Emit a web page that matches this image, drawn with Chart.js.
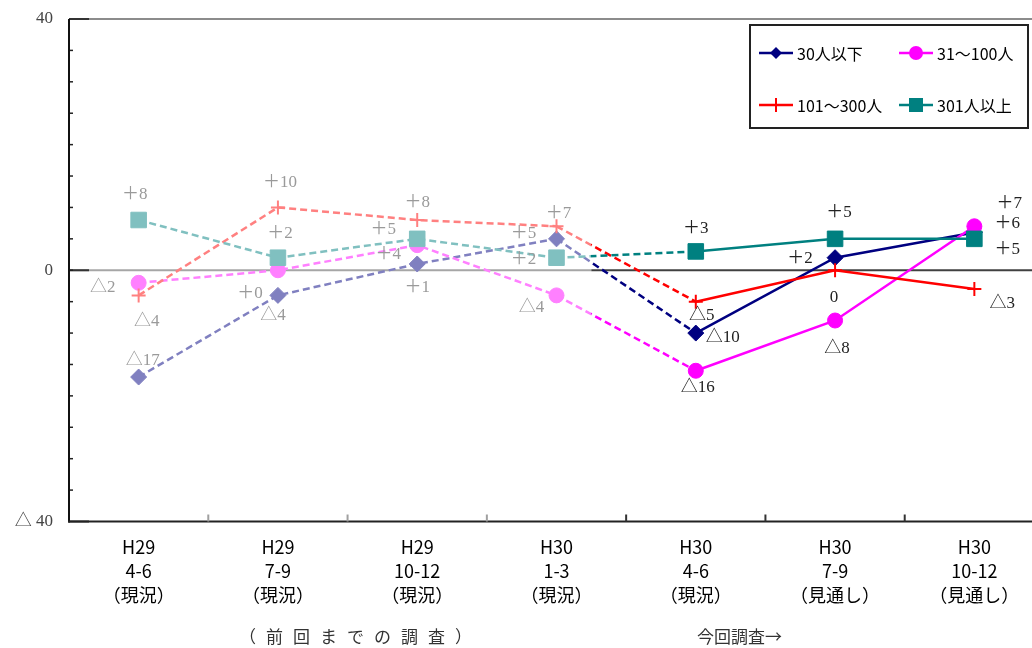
<!DOCTYPE html>
<html lang="ja">
<head>
<meta charset="utf-8">
<title>従業員規模別 景況判断</title>
<script src="https://cdn.jsdelivr.net/npm/chart.js@4.4.1/dist/chart.umd.min.js"></script>
<style>
  html, body { margin: 0; padding: 0; background: #fff; width: 1032px; height: 648px; overflow: hidden; }
  #wrap { position: absolute; left: 0; top: 0; width: 1044px; height: 648px; }
</style>
</head>
<body>
<div id="wrap"><canvas id="chart" width="1044" height="648"></canvas></div>
<script>
// ---- data ----
const categories = [
  ['H29', '4-6', '（現況）'],
  ['H29', '7-9', '（現況）'],
  ['H29', '10-12', '（現況）'],
  ['H30', '1-3', '（現況）'],
  ['H30', '4-6', '（現況）'],
  ['H30', '7-9', '（見通し）'],
  ['H30', '10-12', '（見通し）']
];
const seriesNames = ['30人以下', '31〜100人', '101〜300人', '301人以上'];
const under30     = [-17, -4, 1, 5, -10, 2, 6];
const from31to100 = [-2, 0, 4, -4, -16, -8, 7];
const from101to300 = [-4, 10, 8, 7, -5, 0, -3];
const over301     = [8, 2, 5, 2, 3, 5, 5];
const yTickValues = [40, 0, -40];
const previousCount = 4;            // quarters taken from earlier surveys
const previousNote = '（前回までの調査）';
const currentNote = '今回調査→';

// ---- styles ----
const seriesValues = [under30, from31to100, from101to300, over301];
const seriesStyle = [
  { full: '#000080', faded: '#8080c0', point: 'rectRot', radius: 8,   border: 1 },
  { full: '#ff00ff', faded: '#ff80ff', point: 'circle',  radius: 7.5, border: 1 },
  { full: '#ff0000', faded: '#ff8080', point: 'cross',   radius: 7,   border: 2 },
  { full: '#008080', faded: '#80c0c0', point: 'rect',    radius: 11,  border: 1 }
];
// value label offsets from each point, in px
const labelOffsets = [
  [[4, -17], [-5, 20], [0, 24], [-33, -5], [27, 4], [-35, 1], [33, -9]],
  [[-36, 5], [-28, 23], [-29, 9], [-25, 12], [2, 17], [2, 28], [35, -23]],
  [[8, 26], [2, -25], [0, -17], [2, -13], [6, 14], [-1, 27], [28, 14]],
  [[-4, -25], [2, -24], [-34, -9], [-33, 2], [0, -23], [4, -26], [33, 11]]
];
const LABEL_FONT = '17px "Liberation Serif", "Noto Sans CJK JP", serif';
const SANS = '"Noto Sans CJK JP", "Noto Sans", sans-serif';

function formatValue(v, i) {
  if (v < 0) return '△' + (-v);
  if (v > 0) return '＋' + v;
  return i < previousCount ? '＋0' : '0';
}

// x position where the earlier-survey part of the chart ends
function splitX(chart) {
  const x = chart.scales.x;
  const a = x.getPixelForValue(previousCount - 1), b = x.getPixelForValue(previousCount);
  return a + (b - a) / 4;
}

function splitStroke(chart, faded, full) {
  const area = chart.chartArea;
  if (!area) return full;
  const t = (splitX(chart) - area.left) / (area.right - area.left);
  const g = chart.ctx.createLinearGradient(area.left, 0, area.right, 0);
  g.addColorStop(0, faded);
  g.addColorStop(t, faded);
  g.addColorStop(t, full);
  g.addColorStop(1, full);
  return g;
}

function strokeLine(ctx, x1, y1, x2, y2, color, w) {
  ctx.beginPath();
  ctx.strokeStyle = color;
  ctx.lineWidth = w;
  ctx.moveTo(x1, y1);
  ctx.lineTo(x2, y2);
  ctx.stroke();
}

function drawMarker(ctx, style, x, y, r, color) {
  ctx.fillStyle = color;
  ctx.strokeStyle = color;
  ctx.beginPath();
  if (style === 'rectRot') {
    ctx.moveTo(x - r, y); ctx.lineTo(x, y - r); ctx.lineTo(x + r, y); ctx.lineTo(x, y + r);
    ctx.closePath(); ctx.fill();
  } else if (style === 'circle') {
    ctx.arc(x, y, r, 0, Math.PI * 2); ctx.fill();
  } else if (style === 'rect') {
    ctx.rect(x - r, y - r, 2 * r, 2 * r); ctx.fill();
  } else if (style === 'cross') {
    ctx.lineWidth = 2;
    ctx.moveTo(x - r, y); ctx.lineTo(x + r, y);
    ctx.moveTo(x, y - r); ctx.lineTo(x, y + r);
    ctx.stroke();
  }
}

// axes, reference lines and tick marks
const framePlugin = {
  id: 'frame',
  beforeDatasetsDraw(chart) {
    const { ctx, chartArea: a, scales: { x, y } } = chart;
    const split = splitX(chart);
    ctx.save();
    const yTop = y.getPixelForValue(40), yZero = y.getPixelForValue(0);
    strokeLine(ctx, a.left, yTop, a.right, yTop, '#8c8c8c', 2);
    strokeLine(ctx, a.left, yZero, split, yZero, '#a6a6a6', 2);
    strokeLine(ctx, split, yZero, a.right, yZero, '#404040', 2);
    for (const v of yTickValues) {
      const py = y.getPixelForValue(v);
      strokeLine(ctx, a.left, py, a.left + 20, py, '#333', 2);
    }
    for (let v = -35; v <= 35; v += 5) {
      const py = y.getPixelForValue(v);
      strokeLine(ctx, a.left, py, a.left + 4, py, '#222', 1.5);
    }
    strokeLine(ctx, a.left, a.top, a.left, a.bottom + 1, '#111', 2);
    strokeLine(ctx, a.left - 1, a.bottom, a.right, a.bottom, '#222', 2);
    for (let i = 0; i < categories.length - 1; i++) {
      const bx = (x.getPixelForValue(i) + x.getPixelForValue(i + 1)) / 2;
      strokeLine(ctx, bx, a.bottom, bx, a.bottom - 7, i < previousCount - 1 ? '#a0a0a0' : '#333', 2);
    }
    ctx.restore();
  },
  afterDatasetsDraw(chart) {
    const { ctx } = chart;
    ctx.save();
    ctx.font = LABEL_FONT;
    ctx.textAlign = 'center';
    ctx.textBaseline = 'middle';
    seriesValues.forEach((vals, s) => {
      const meta = chart.getDatasetMeta(s);
      vals.forEach((v, i) => {
        const pt = meta.data[i];
        const [dx, dy] = labelOffsets[s][i];
        ctx.fillStyle = i < previousCount ? '#9a9a9a' : '#222';
        ctx.fillText(formatValue(v, i), pt.x + dx, pt.y + dy);
      });
    });
    ctx.restore();
  },
  afterDraw(chart) {
    const { ctx, scales: { x } } = chart;
    ctx.save();
    // legend box
    const lx = 750, ly = 25, lw = 278, lh = 103;
    ctx.fillStyle = '#fff';
    ctx.fillRect(lx, ly, lw, lh);
    ctx.strokeStyle = '#222';
    ctx.lineWidth = 2;
    ctx.strokeRect(lx, ly, lw, lh);
    const slots = [[759, 53], [899, 53], [759, 105], [899, 105]];
    const legendR = [6, 7, 7, 7];
    ctx.font = '16px ' + SANS;
    ctx.textBaseline = 'middle';
    ctx.textAlign = 'left';
    seriesNames.forEach((name, s) => {
      const [sx, sy] = slots[s];
      const st = seriesStyle[s];
      strokeLine(ctx, sx, sy, sx + 34, sy, st.full, 2.5);
      drawMarker(ctx, st.point, sx + 17, sy, legendR[s], st.full);
      ctx.fillStyle = '#000';
      ctx.fillText(name, sx + 38, sy + 1);
    });
    // survey period notes under the axis
    ctx.fillStyle = '#333';
    ctx.font = '17px ' + SANS;
    ctx.textAlign = 'center';
    const chars = Array.from(previousNote);
    const step = 27;
    const startX = (x.getPixelForValue(1) + x.getPixelForValue(2)) / 2 - step * (chars.length - 1) / 2 + 8;
    chars.forEach((ch, k) => ctx.fillText(ch, startX + step * k, 637));
    ctx.textAlign = 'left';
    ctx.fillText(currentNote, 697, 637);
    ctx.restore();
  }
};

new Chart(document.getElementById('chart'), {
  type: 'line',
  data: {
    labels: categories,
    datasets: seriesValues.map((vals, s) => {
      const st = seriesStyle[s];
      const ptCol = vals.map((_, i) => (i < previousCount ? st.faded : st.full));
      return {
        label: seriesNames[s],
        data: vals,
        order: seriesValues.length - 1 - s,
        borderColor: st.full,
        borderWidth: 2.5,
        pointStyle: st.point,
        pointRadius: st.radius,
        pointBorderWidth: st.border,
        pointBackgroundColor: ptCol,
        pointBorderColor: ptCol,
        fill: false,
        tension: 0,
        segment: {
          borderColor: c => c.p0DataIndex < previousCount - 1 ? st.faded
            : c.p0DataIndex === previousCount - 1 ? splitStroke(c.chart, st.faded, st.full)
            : st.full,
          borderDash: c => (c.p0DataIndex < previousCount ? [7, 4] : undefined)
        }
      };
    })
  },
  options: {
    responsive: false,
    animation: false,
    devicePixelRatio: 1,
    events: [],
    layout: { autoPadding: false, padding: { top: 19, left: 0, right: 0, bottom: 0 } },
    plugins: { legend: { display: false }, tooltip: { enabled: false } },
    scales: {
      x: {
        type: 'category',
        offset: true,
        grid: { display: false, drawTicks: false },
        border: { display: false },
        ticks: {
          autoSkip: false,
          maxRotation: 0,
          padding: 14,
          color: '#000',
          font: { family: SANS, size: 18, lineHeight: 1.333 }
        },
        afterFit: s => { s.height = 126.5; }
      },
      y: {
        min: -40,
        max: 40,
        grid: { display: false, drawTicks: false },
        border: { display: false },
        ticks: {
          stepSize: 5,
          autoSkip: false,
          padding: 16,
          color: '#444',
          font: { family: '"Liberation Serif", "Noto Sans CJK JP", serif', size: 17 },
          callback: v => (yTickValues.includes(v) ? (v < 0 ? '△ ' + (-v) : String(v)) : '')
        },
        afterFit: s => { s.width = 69; s.paddingTop = 0; s.paddingBottom = 0; }
      }
    }
  },
  plugins: [framePlugin]
});
</script>
</body>
</html>
